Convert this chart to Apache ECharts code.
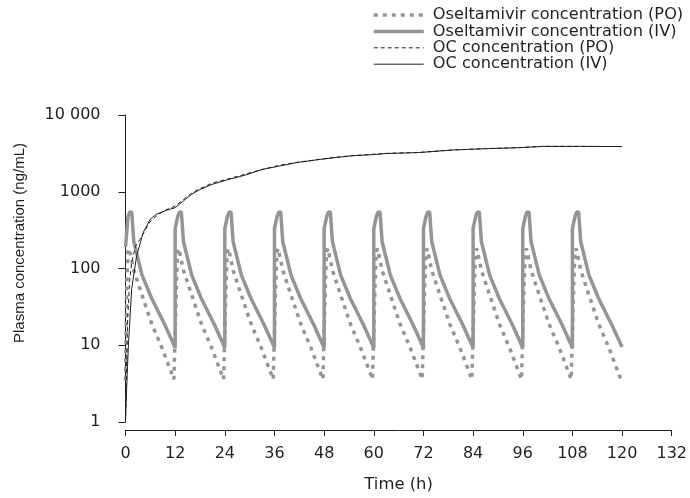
<!DOCTYPE html>
<html>
<head>
<meta charset="utf-8">
<script src="https://cdn.jsdelivr.net/npm/echarts@6/dist/echarts.min.js"></script>
<style>
  html, body { margin: 0; padding: 0; background: #fff; }
  #chart { width: 690px; height: 498px; }
</style>
</head>
<body>
<div id="chart"></div>
<script>
// time (h) ticks
const timeTicks = [0, 12, 24, 36, 48, 60, 72, 84, 96, 108, 120, 132]
const concTicks = [1, 10, 100, 1000, 10000]

// oseltamivir, oral dosing [time h, ng/mL]
const oselPO = [
  [0, 3.5], [0.3, 60], [0.6, 165], [0.9, 182], [2, 95], [4, 45], [6.4, 18.6], [8.8, 9.3], [11.7, 3.6],
  [12, 3.4], [12.3, 60], [12.6, 165], [12.9, 182], [14, 95], [16, 45], [18.4, 18.6], [20.8, 9.3], [23.7, 3.6],
  [24, 3.4], [24.3, 60], [24.6, 165], [24.9, 182], [26, 95], [28, 45], [30.4, 18.6], [32.8, 9.3], [35.7, 3.6],
  [36, 3.4], [36.3, 60], [36.6, 165], [36.9, 182], [38, 95], [40, 45], [42.4, 18.6], [44.8, 9.3], [47.7, 3.6],
  [48, 3.4], [48.3, 60], [48.6, 165], [48.9, 182], [50, 95], [52, 45], [54.4, 18.6], [56.8, 9.3], [59.7, 3.6],
  [60, 3.4], [60.3, 60], [60.6, 165], [60.9, 182], [62, 95], [64, 45], [66.4, 18.6], [68.8, 9.3], [71.7, 3.6],
  [72, 3.4], [72.3, 60], [72.6, 165], [72.9, 182], [74, 95], [76, 45], [78.4, 18.6], [80.8, 9.3], [83.7, 3.6],
  [84, 3.4], [84.3, 60], [84.6, 165], [84.9, 182], [86, 95], [88, 45], [90.4, 18.6], [92.8, 9.3], [95.7, 3.6],
  [96, 3.4], [96.3, 60], [96.6, 165], [96.9, 182], [98, 95], [100, 45], [102.4, 18.6], [104.8, 9.3], [107.7, 3.6],
  [108, 3.4], [108.3, 60], [108.6, 165], [108.9, 182], [110, 95], [112, 45], [114.4, 18.6], [116.8, 9.3], [119.7, 3.6], [120, 3.4]
]

// oseltamivir, intravenous dosing
const oselIV = [
  [0, 190], [0.6, 470], [1.0, 540], [1.5, 545], [2.0, 225], [4, 82], [6.3, 41], [9.5, 18.5],
  [12, 9.3], [12, 330], [12.6, 470], [13.0, 540], [13.5, 545], [14.0, 225], [16, 82], [18.3, 41], [21.5, 18.5],
  [24, 9.3], [24, 330], [24.6, 470], [25.0, 540], [25.5, 545], [26.0, 225], [28, 82], [30.3, 41], [33.5, 18.5],
  [36, 9.3], [36, 330], [36.6, 470], [37.0, 540], [37.5, 545], [38.0, 225], [40, 82], [42.3, 41], [45.5, 18.5],
  [48, 9.3], [48, 330], [48.6, 470], [49.0, 540], [49.5, 545], [50.0, 225], [52, 82], [54.3, 41], [57.5, 18.5],
  [60, 9.3], [60, 330], [60.6, 470], [61.0, 540], [61.5, 545], [62.0, 225], [64, 82], [66.3, 41], [69.5, 18.5],
  [72, 9.3], [72, 330], [72.6, 470], [73.0, 540], [73.5, 545], [74.0, 225], [76, 82], [78.3, 41], [81.5, 18.5],
  [84, 9.3], [84, 330], [84.6, 470], [85.0, 540], [85.5, 545], [86.0, 225], [88, 82], [90.3, 41], [93.5, 18.5],
  [96, 9.3], [96, 330], [96.6, 470], [97.0, 540], [97.5, 545], [98.0, 225], [100, 82], [102.3, 41], [105.5, 18.5],
  [108, 9.3], [108, 330], [108.6, 470], [109.0, 540], [109.5, 545], [110.0, 225], [112, 82], [114.3, 41], [117.5, 18.5], [120, 9.5]
]

// OC (metabolite), oral dosing
const ocPO = [
  [0, 1], [0.2, 4], [0.5, 20], [1, 70], [1.5, 120], [2.5, 200], [3.5, 240], [5.9, 405], [8, 510], [10, 590],
  [12, 650], [14, 790], [16, 960], [18, 1100], [21, 1300], [25, 1480], [29, 1700], [33, 1950], [37, 2200], [41, 2400],
  [47, 2650], [51, 2820], [55, 2960], [60, 3080], [63, 3160], [71, 3260], [79, 3500], [87, 3650], [95, 3760],
  [101, 3900], [110, 3900], [120, 3880]
]

// OC (metabolite), intravenous dosing
const ocIV = [
  [0, 1], [0.3, 3], [0.7, 10], [1.5, 55], [2.7, 148], [4.3, 297], [6, 440], [7.5, 510], [10, 575],
  [12, 620], [14, 760], [16, 930], [18, 1070], [21, 1250], [25, 1450], [29, 1650], [33, 1950], [37, 2150], [41, 2380],
  [47, 2640], [51, 2800], [55, 2950], [60, 3050], [63, 3150], [71, 3240], [79, 3500], [87, 3640], [95, 3750],
  [101, 3900], [110, 3900], [120, 3880]
]

const FONT_WIDE = 'DejaVu Sans, Verdana, sans-serif'
const FONT_NARROW = 'Liberation Sans, Arial, Helvetica, sans-serif'
const GREY = '#939598'
const INK = '#231f20'

const chart = echarts.init(document.getElementById('chart'), null, { renderer: 'canvas' })
chart.setOption({
  animation: false,
  textStyle: { fontFamily: FONT_WIDE },
  grid: { left: 125.5, right: 17, top: 115, bottom: 73 },
  legend: {
    orient: 'vertical',
    left: 367,
    top: 2,
    itemWidth: 50,
    itemHeight: 10,
    itemGap: 0.4,
    itemStyle: { opacity: 0 },
    lineStyle: { width: 'inherit' },
    textStyle: { fontFamily: FONT_WIDE, fontSize: 16.2, color: INK, lineHeight: 16, padding: [0, 0, 0, 4] },
    data: [
      'Oseltamivir concentration (PO)',
      'Oseltamivir concentration (IV)',
      'OC concentration (PO)',
      'OC concentration (IV)'
    ]
  },
  xAxis: {
    type: 'value',
    min: 0,
    max: 132,
    interval: 12,
    offset: 8,
    name: 'Time (h)',
    nameLocation: 'middle',
    nameGap: 47,
    nameTextStyle: { fontFamily: FONT_WIDE, fontSize: 16.4, color: INK },
    axisLine: { lineStyle: { color: INK, width: 1 } },
    axisTick: { length: 6, lineStyle: { color: INK } },
    axisLabel: { fontFamily: FONT_WIDE, fontSize: 16, color: INK, margin: 16 },
    splitLine: { show: false }
  },
  yAxis: {
    type: 'log',
    logBase: 10,
    min: 1,
    max: 10000,
    offset: 8,
    name: 'Plasma concentration (ng/mL)',
    nameLocation: 'middle',
    nameGap: 90,
    nameTextStyle: { fontFamily: FONT_NARROW, fontSize: 15, color: INK, padding: [0, 0, 0, 51] },
    axisLine: { show: true, lineStyle: { color: INK, width: 1 } },
    axisTick: { show: true, length: 7, lineStyle: { color: INK } },
    axisLabel: {
      fontFamily: FONT_WIDE,
      fontSize: 16,
      color: INK,
      margin: 17,
      formatter: v => (v === concTicks[4] ? '10 000' : String(v))
    },
    splitLine: { show: false }
  },
  series: [
    {
      name: 'Oseltamivir concentration (PO)',
      type: 'line',
      symbol: 'none',
      data: oselPO,
      itemStyle: { color: GREY },
      lineStyle: { color: GREY, width: 3.5, type: [4, 5], cap: 'butt' }
    },
    {
      name: 'Oseltamivir concentration (IV)',
      type: 'line',
      symbol: 'none',
      data: oselIV,
      itemStyle: { color: GREY },
      lineStyle: { color: GREY, width: 3.5 }
    },
    {
      name: 'OC concentration (PO)',
      type: 'line',
      symbol: 'none',
      data: ocPO,
      itemStyle: { color: INK },
      lineStyle: { color: INK, width: 1, type: [4, 3] }
    },
    {
      name: 'OC concentration (IV)',
      type: 'line',
      symbol: 'none',
      data: ocIV,
      itemStyle: { color: INK },
      lineStyle: { color: INK, width: 1 }
    }
  ]
})
</script>
</body>
</html>
